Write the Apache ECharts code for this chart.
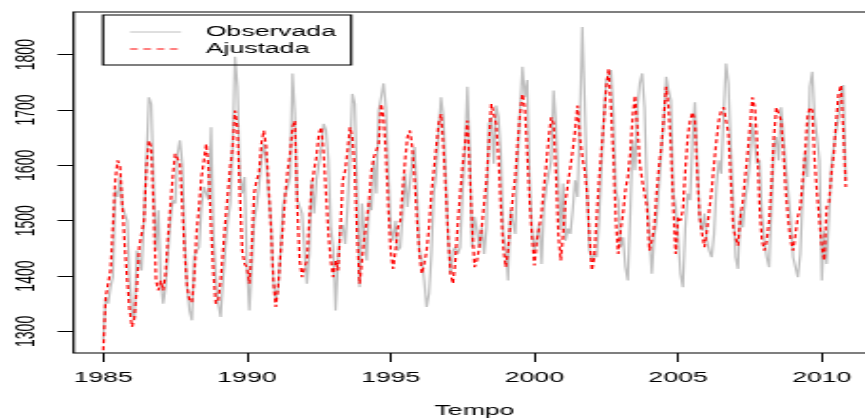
<!DOCTYPE html>
<html>
<head>
<meta charset="utf-8">
<script src="https://cdn.jsdelivr.net/npm/echarts@6/dist/echarts.min.js"></script>
<style>
  html, body { margin: 0; padding: 0; background: #fff; }
  #wrap { width: 865px; height: 419px; overflow: hidden; position: relative; }
  #chart { width: 455px; height: 419px; transform: scaleX(1.9011); transform-origin: 0 0; }
</style>
</head>
<body>
<div id="wrap"><div id="chart"></div></div>
<script>
// ---- data (monthly, starting Jan 1985) ----
const startYear = 1985;
const monthsPerYear = 12;
const seriesNames = ['Observada', 'Ajustada'];
const xTickValues = [1985, 1990, 1995, 2000, 2005, 2010];
const yTickValues = [1300, 1400, 1500, 1600, 1700, 1800];

const observed = [
1285,1362,1350,1380,1398,1555,1543,1579,1525,1525,1500,1392,
1335,1320,1446,1428,1410,1500,1609,1723,1711,1573,1446,1519,
1392,1350,1380,1440,1500,1537,1531,1621,1645,1603,1470,1380,
1338,1320,1435,1446,1452,1525,1561,1549,1537,1669,1476,1398,
1350,1326,1392,1452,1500,1531,1633,1796,1742,1591,1549,1579,
1416,1338,1416,1500,1525,1561,1609,1639,1609,1549,1500,1392,
1356,1380,1440,1525,1549,1561,1579,1766,1693,1537,1525,1513,
1446,1386,1440,1573,1513,1573,1603,1633,1675,1663,1609,1488,
1452,1338,1428,1488,1492,1458,1525,1621,1729,1711,1561,1380,
1531,1476,1428,1537,1519,1609,1549,1699,1723,1748,1705,1591,
1488,1464,1500,1446,1452,1513,1585,1525,1525,1609,1633,1549,
1446,1428,1392,1344,1368,1440,1549,1585,1663,1723,1687,1585,
1470,1404,1446,1452,1440,1452,1549,1627,1742,1633,1452,1507,
1483,1452,1488,1440,1488,1675,1687,1603,1708,1687,1621,1476,
1452,1392,1519,1519,1476,1609,1699,1778,1723,1754,1579,1483,
1446,1470,1495,1422,1525,1561,1561,1609,1735,1675,1567,1483,
1567,1464,1486,1476,1519,1573,1543,1681,1850,1717,1555,1446,
1428,1440,1434,1500,1597,1687,1754,1754,1772,1693,1555,1537,
1452,1470,1416,1392,1513,1645,1591,1705,1748,1766,1705,1549,
1476,1404,1470,1500,1561,1627,1675,1760,1736,1717,1549,1525,
1470,1404,1380,1488,1549,1537,1645,1714,1609,1507,1482,1513,
1464,1446,1434,1476,1561,1609,1585,1693,1784,1748,1633,1537,
1434,1413,1519,1488,1537,1567,1609,1675,1675,1603,1609,1513,
1464,1434,1416,1525,1633,1651,1609,1705,1705,1597,1549,1500,
1434,1434,1398,1440,1543,1621,1579,1742,1769,1687,1651,1609,
1392,1482,1422,1507,1597,1633,1663,1687,1729,1745,1573
];

const fitted = [
1266,1362,1386,1410,1488,1573,1609,1597,1525,1452,1392,1338,
1308,1326,1380,1452,1476,1500,1597,1645,1633,1525,1392,1374,
1392,1374,1404,1470,1525,1579,1621,1624,1603,1525,1440,1380,
1356,1352,1400,1482,1525,1579,1609,1639,1591,1488,1404,1350,
1356,1392,1446,1500,1549,1597,1633,1699,1669,1549,1446,1422,
1416,1386,1452,1549,1573,1585,1639,1663,1633,1561,1488,1392,
1344,1380,1440,1490,1549,1591,1621,1669,1681,1525,1428,1398,
1416,1428,1500,1561,1591,1615,1657,1669,1621,1549,1476,1428,
1398,1428,1410,1488,1573,1591,1627,1669,1651,1591,1470,1386,
1428,1470,1500,1537,1591,1615,1615,1639,1711,1687,1621,1525,
1446,1413,1446,1488,1500,1555,1609,1651,1663,1633,1573,1500,
1440,1404,1422,1446,1488,1549,1591,1633,1675,1693,1633,1555,
1470,1404,1386,1428,1495,1549,1597,1639,1681,1591,1488,1416,
1428,1452,1488,1531,1573,1639,1711,1711,1675,1615,1525,1452,
1416,1446,1500,1543,1579,1639,1693,1729,1705,1621,1537,1470,
1419,1464,1488,1513,1561,1603,1651,1687,1675,1585,1476,1428,
1476,1537,1567,1597,1627,1663,1708,1651,1615,1591,1549,1470,
1410,1434,1507,1573,1627,1681,1742,1775,1699,1615,1500,1440,
1483,1513,1555,1579,1621,1687,1726,1669,1603,1573,1573,1525,
1446,1464,1488,1549,1597,1633,1687,1742,1705,1633,1525,1440,
1507,1500,1519,1591,1651,1681,1696,1681,1585,1507,1476,1452,
1482,1519,1555,1603,1645,1681,1699,1705,1705,1657,1573,1488,
1470,1455,1507,1534,1579,1621,1669,1723,1705,1639,1525,1464,
1446,1464,1500,1567,1651,1705,1705,1681,1621,1549,1500,1464,
1446,1476,1507,1525,1573,1621,1687,1705,1699,1609,1549,1500,
1452,1428,1525,1531,1585,1621,1681,1730,1745,1660,1561
];

// pair each value with its time position (year + month/12)
const toPairs = arr => arr.map((v, i) => [startYear + i / monthsPerYear, v]);

const chart = echarts.init(document.getElementById('chart'), null, { renderer: 'canvas' });
const font = '"Liberation Sans", Arial, Helvetica, sans-serif';
const plain = v => String(v);

chart.setOption({
  animation: false,
  backgroundColor: '#fff',
  textStyle: { fontFamily: font },
  grid: {
    left: 38.7, top: 12, width: 421.8, height: 341,
    show: true, borderColor: '#000', borderWidth: 1.2,
    containLabel: false, outerBoundsMode: 'none'
  },
  legend: {
    data: seriesNames,
    orient: 'vertical',
    left: 54.2, top: 15,
    padding: [10, 8, 9, 13.7],
    borderColor: '#000', borderWidth: 1.2,
    itemWidth: 26.8, itemHeight: 14, itemGap: 3,
    itemStyle: { opacity: 0, borderWidth: 0 },
    lineStyle: { width: 1 },
    textStyle: { fontSize: 14, color: '#000', fontFamily: font, padding: [0, 0, 0, 8] }
  },
  xAxis: {
    type: 'value',
    min: 1983.967, max: 2011.867,
    axisLine: { show: false },
    splitLine: { show: false },
    axisTick: { show: true, customValues: xTickValues, length: 9, lineStyle: { color: '#000', width: 1 } },
    axisLabel: { customValues: xTickValues, formatter: plain, margin: 18, fontSize: 14, color: '#000', fontFamily: font },
    name: 'Tempo', nameLocation: 'middle', nameGap: 51,
    nameTextStyle: { fontSize: 14, color: '#000', fontFamily: font }
  },
  yAxis: {
    type: 'value',
    min: 1261, max: 1877,
    axisLine: { show: false },
    splitLine: { show: false },
    axisTick: { show: true, customValues: yTickValues, length: 8.4, lineStyle: { color: '#000', width: 1 } },
    axisLabel: { customValues: yTickValues, formatter: plain, rotate: 90, margin: 18, fontSize: 14, color: '#000', fontFamily: font }
  },
  series: [
    {
      name: seriesNames[0], type: 'line', data: toPairs(observed),
      symbol: 'none', showSymbol: false,
      lineStyle: { color: '#bebebe', width: 1.2 },
      itemStyle: { color: '#bebebe' },
      z: 2
    },
    {
      name: seriesNames[1], type: 'line', data: toPairs(fitted),
      symbol: 'none', showSymbol: false,
      lineStyle: { color: '#ff0000', width: 1.2, type: [4, 3] },
      itemStyle: { color: '#ff0000' },
      z: 3
    }
  ]
});
</script>
</body>
</html>
